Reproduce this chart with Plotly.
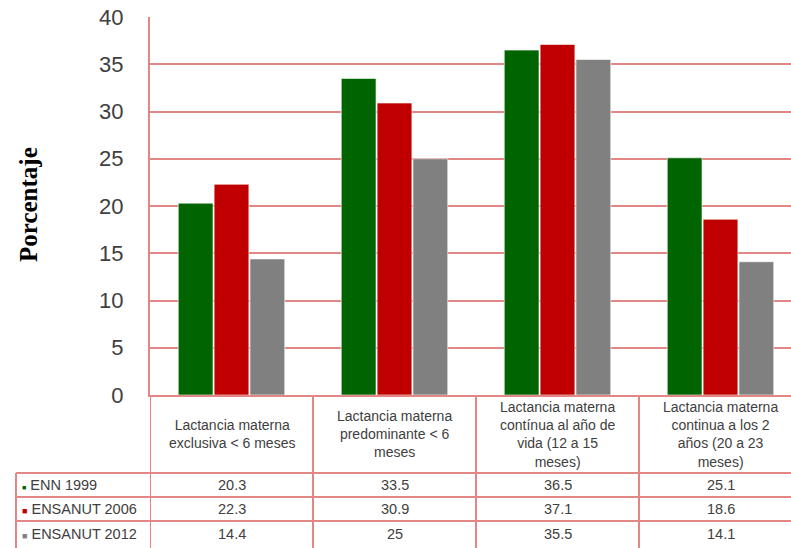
import plotly.graph_objects as go

# ---- data ----
categories = [
    "Lactancia materna<br>exclusiva < 6 meses",
    "Lactancia materna<br>predominante < 6<br>meses",
    "Lactancia materna<br>contínua al año de<br>vida (12 a 15<br>meses)",
    "Lactancia materna<br>continua a los 2<br>años (20 a 23<br>meses)",
]
series_names = ["ENN 1999", "ENSANUT 2006", "ENSANUT 2012"]
enn_1999 = [20.3, 33.5, 36.5, 25.1]
ensanut_2006 = [22.3, 30.9, 37.1, 18.6]
ensanut_2012 = [14.4, 25, 35.5, 14.1]
series_values = [enn_1999, ensanut_2006, ensanut_2012]
colors = ["#006400", "#C00000", "#808080"]
marker_sizes = [7, 9, 9]
y_ticks = [0, 5, 10, 15, 20, 25, 30, 35, 40]

# ---- layout constants (pixels) ----
W, H = 791, 548
ML, MT, MB = 150, 17, 153
plot_h = H - MT - MB
plot_w = W - ML
line_col = "#E38686"
text_col = "#404040"
y0_px = MT + plot_h


def py(px):
    return (y0_px - px) / plot_h


def pxx(px):
    return (px - ML) / plot_w


fig = go.Figure()
for name, vals, col in zip(series_names, series_values, colors):
    fig.add_trace(go.Bar(
        x=categories, y=vals, name=name,
        marker=dict(color=col, line=dict(color="rgba(255,255,255,0.6)", width=1)),
        showlegend=False,
    ))

shapes = []
annotations = []

# vertical category boundaries in table
for i in range(len(categories)):
    shapes.append(dict(type="line", xref="x", yref="paper",
                       x0=i - 0.5, x1=i - 0.5, y0=0, y1=py(H + 5),
                       line=dict(color=line_col, width=2)))
# left legend column border
shapes.append(dict(type="line", xref="paper", yref="paper",
                   x0=pxx(16), x1=pxx(16), y0=py(473), y1=py(H + 5),
                   line=dict(color=line_col, width=2)))
# horizontal row lines
for ypx in [473, 497, 521]:
    shapes.append(dict(type="line", xref="paper", yref="paper",
                       x0=pxx(16), x1=1.0, y0=py(ypx), y1=py(ypx),
                       line=dict(color=line_col, width=2)))

# header cells
for i, c in enumerate(categories):
    annotations.append(dict(xref="x", yref="paper", x=i, y=py(434),
                            text=c, showarrow=False, xanchor="center", yanchor="middle",
                            align="center", font=dict(family="Liberation Sans", size=14, color=text_col)))

# value cells and legend column
row_centers = [485, 509, 534]
for r, (name, vals, col) in enumerate(zip(series_names, series_values, colors)):
    annotations.append(dict(xref="paper", yref="paper", x=pxx(20), y=py(row_centers[r]),
                            text=f"<span style='font-size:{marker_sizes[r]}px;color:{col}'>■</span> {name}",
                            showarrow=False, xanchor="left", yanchor="middle",
                            font=dict(family="Liberation Sans", size=14.5, color=text_col)))
    for i, v in enumerate(vals):
        annotations.append(dict(xref="x", yref="paper", x=i, y=py(row_centers[r]),
                                text=f"{v:g}", showarrow=False, xanchor="center", yanchor="middle",
                                font=dict(family="Liberation Sans", size=14.5, color=text_col)))

# y-axis title
annotations.append(dict(xref="paper", yref="paper", x=pxx(28), y=py(205),
                        text="<b>Porcentaje</b>", textangle=-90, showarrow=False,
                        xanchor="center", yanchor="middle",
                        font=dict(family="Liberation Serif", size=25, color="#000000")))

fig.update_layout(
    width=W, height=H,
    margin=dict(l=ML, r=0, t=MT, b=MB),
    paper_bgcolor="white", plot_bgcolor="white",
    barmode="group", bargap=0.34, bargroupgap=0.03,
    shapes=shapes, annotations=annotations,
    xaxis=dict(range=[-0.5, -0.5 + plot_w / 163.0], showticklabels=False, showgrid=False,
               showline=True, linecolor=line_col, linewidth=2, zeroline=False, ticks=""),
    yaxis=dict(range=[0, 40], tickvals=y_ticks, showgrid=True, gridcolor=line_col, gridwidth=2,
               showline=True, linecolor=line_col, linewidth=2, zeroline=False,
               ticks="", ticklabelstandoff=20,
               tickfont=dict(family="Liberation Sans", size=22, color=text_col)),
)

fig.write_html("out.html")
